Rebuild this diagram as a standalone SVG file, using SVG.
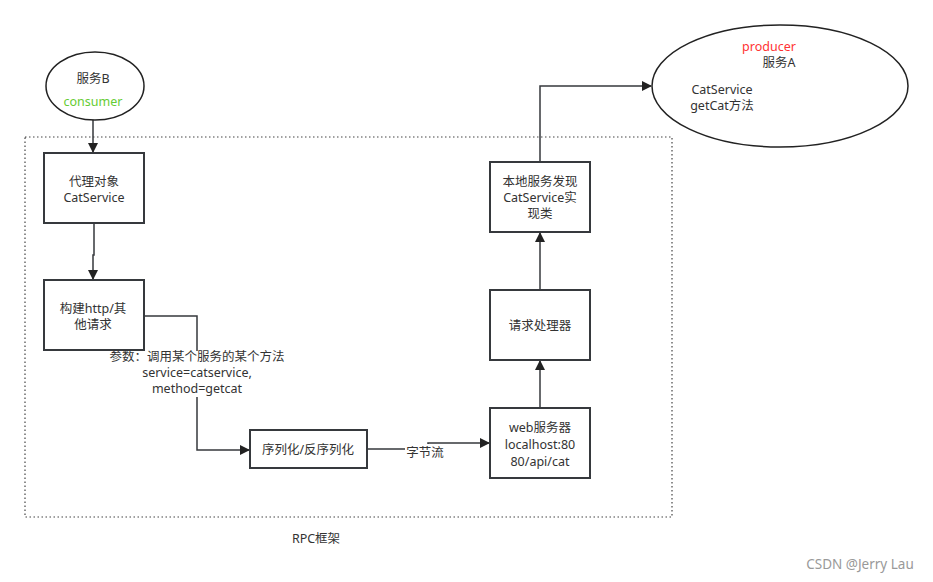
<svg xmlns="http://www.w3.org/2000/svg" width="933" height="582" viewBox="0 0 933 582">
<style>
.box{fill:#fff;stroke:#36393d;stroke-width:2}
.ell{fill:#fff;stroke:#222;stroke-width:1.5}
.ln{fill:none;stroke:#36393d;stroke-width:1.5}
text{font-family:"Noto Sans","Noto Sans CJK SC","Liberation Sans",sans-serif;font-size:12.5px;fill:#333;text-anchor:middle}
.lbl{fill:#fff}
</style>
<defs>
<marker id="arr" markerWidth="10" markerHeight="10" refX="9" refY="5" orient="auto" markerUnits="userSpaceOnUse">
<path d="M0,0 L10,5 L0,10 Z" fill="#222"/>
</marker>
</defs>
<rect width="933" height="582" fill="#fff"/>
<rect x="25" y="137" width="647" height="380" fill="none" stroke="#444" stroke-width="1.2" stroke-dasharray="1.5,2.5"/>
<g id="connectors">
<path class="ln" d="M93,120 V152" marker-end="url(#arr)"/>
<path class="ln" d="M94,223 V255 H93 V279" marker-end="url(#arr)"/>
<path class="ln" d="M144,316 H197 V450 H249" marker-end="url(#arr)"/>
<path class="ln" d="M367,449 H428 V443 H489" marker-end="url(#arr)"/>
<path class="ln" d="M540,408 V361" marker-end="url(#arr)"/>
<path class="ln" d="M540,290 V233" marker-end="url(#arr)"/>
<path class="ln" d="M540,162 V86 H651" marker-end="url(#arr)"/>
</g>
<g id="serviceB">
<ellipse class="ell" cx="95" cy="86" rx="49" ry="34"/>
<text x="93" y="83">服务B</text>
<text x="93" y="106" style="fill:#66cc33">consumer</text>
</g>
<g id="proxy">
<rect class="box" x="44" y="153" width="100" height="70"/>
<text x="94" y="186">代理对象</text>
<text x="94" y="202">CatService</text>
</g>
<g id="build">
<rect class="box" x="44" y="280" width="100" height="70"/>
<text x="93" y="313">构建http/其</text>
<text x="93" y="329">他请求</text>
</g>
<g id="paramLabel">
<rect class="lbl" x="106" y="351" width="182" height="46"/>
<text x="197" y="361">参数：调用某个服务的某个方法</text>
<text x="197" y="377">service=catservice,</text>
<text x="197" y="393">method=getcat</text>
</g>
<g id="serialize">
<rect class="box" x="250" y="430" width="117" height="38"/>
<text x="308" y="454">序列化/反序列化</text>
</g>
<g id="byteLabel">
<rect class="lbl" x="405" y="444" width="40" height="16"/>
<text x="425" y="457">字节流</text>
</g>
<g id="webServer">
<rect class="box" x="490" y="408" width="100" height="70"/>
<text x="540" y="432">web服务器</text>
<text x="540" y="449">localhost:80</text>
<text x="540" y="466">80/api/cat</text>
</g>
<g id="handler">
<rect class="box" x="490" y="290" width="100" height="70"/>
<text x="540" y="330">请求处理器</text>
</g>
<g id="discovery">
<rect class="box" x="490" y="162" width="100" height="70"/>
<text x="540" y="186">本地服务发现</text>
<text x="540" y="202">CatService实</text>
<text x="540" y="218">现类</text>
</g>
<g id="serviceA">
<ellipse class="ell" cx="780" cy="86" rx="128" ry="61"/>
<text x="769" y="51" style="fill:#ff3333">producer</text>
<text x="779" y="67">服务A</text>
<text x="722" y="94">CatService</text>
<text x="722" y="110">getCat方法</text>
</g>
<text x="316" y="543">RPC框架</text>
<text x="860" y="569" style="fill:#999;font-size:13.5px">CSDN @Jerry Lau</text>
</svg>
